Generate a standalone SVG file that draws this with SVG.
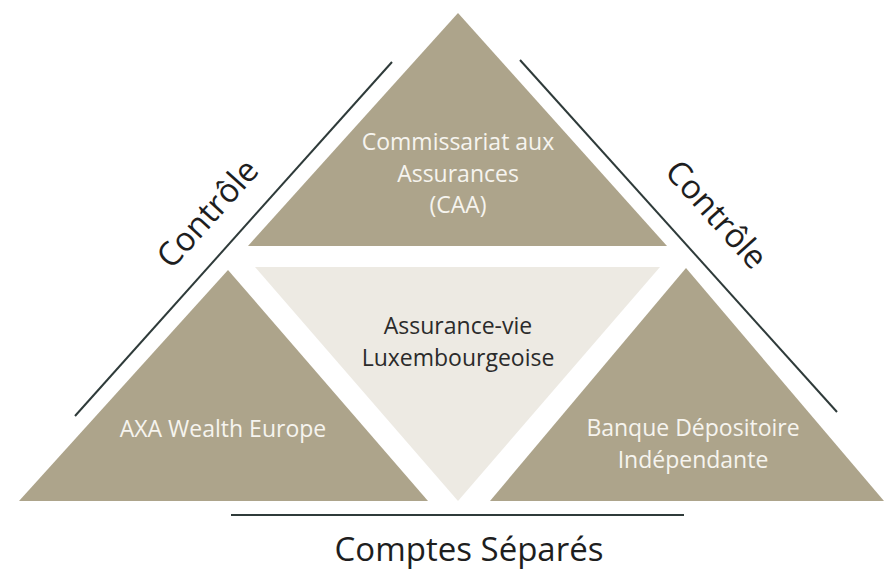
<svg xmlns="http://www.w3.org/2000/svg" width="887" height="570" viewBox="0 0 887 570">
<style>
.tan{fill:#ADA48B}
.light{fill:#EDEAE3}
.wt{font-family:"Open Sans",Lato,sans-serif;font-size:23px;fill:#F6F4EF;text-anchor:middle}
.dk{font-family:"Open Sans",Lato,sans-serif;font-size:23px;fill:#2B2B2B;text-anchor:middle}
.big{font-family:"Open Sans",Lato,sans-serif;font-size:33px;fill:#1E1E1E;text-anchor:middle}
.ln{stroke:#2F3B3A;stroke-width:2;fill:none}
</style>
<rect width="887" height="570" fill="#FFFFFF"/>
<g id="caa">
<polygon class="tan" points="458,13 248,246 667,246"/>
<text class="wt" x="458" y="150">Commissariat aux</text>
<text class="wt" x="458" y="182">Assurances</text>
<text class="wt" x="458" y="213">(CAA)</text>
</g>
<g id="assurance-vie">
<polygon class="light" points="255,267 660,267 458,501"/>
<text class="dk" x="458" y="334">Assurance-vie</text>
<text class="dk" x="458" y="366">Luxembourgeoise</text>
</g>
<g id="axa">
<polygon class="tan" points="228,270 19,501 428,501"/>
<text class="wt" x="223" y="437">AXA Wealth Europe</text>
</g>
<g id="banque">
<polygon class="tan" points="686,268 490,501 884,501"/>
<text class="wt" x="693" y="436">Banque Dépositoire</text>
<text class="wt" x="693" y="468">Indépendante</text>
</g>
<g id="connectors">
<line class="ln" x1="392" y1="62" x2="75" y2="416"/>
<line class="ln" x1="520" y1="60" x2="837" y2="412"/>
<line class="ln" x1="231" y1="515" x2="684" y2="515" stroke-width="2.5"/>
</g>
<g id="labels">
<text class="big" transform="translate(216,221) rotate(-48)">Contrôle</text>
<text class="big" transform="translate(708,222) rotate(48)">Contrôle</text>
<text class="big" x="469" y="561">Comptes Séparés</text>
</g>
</svg>
